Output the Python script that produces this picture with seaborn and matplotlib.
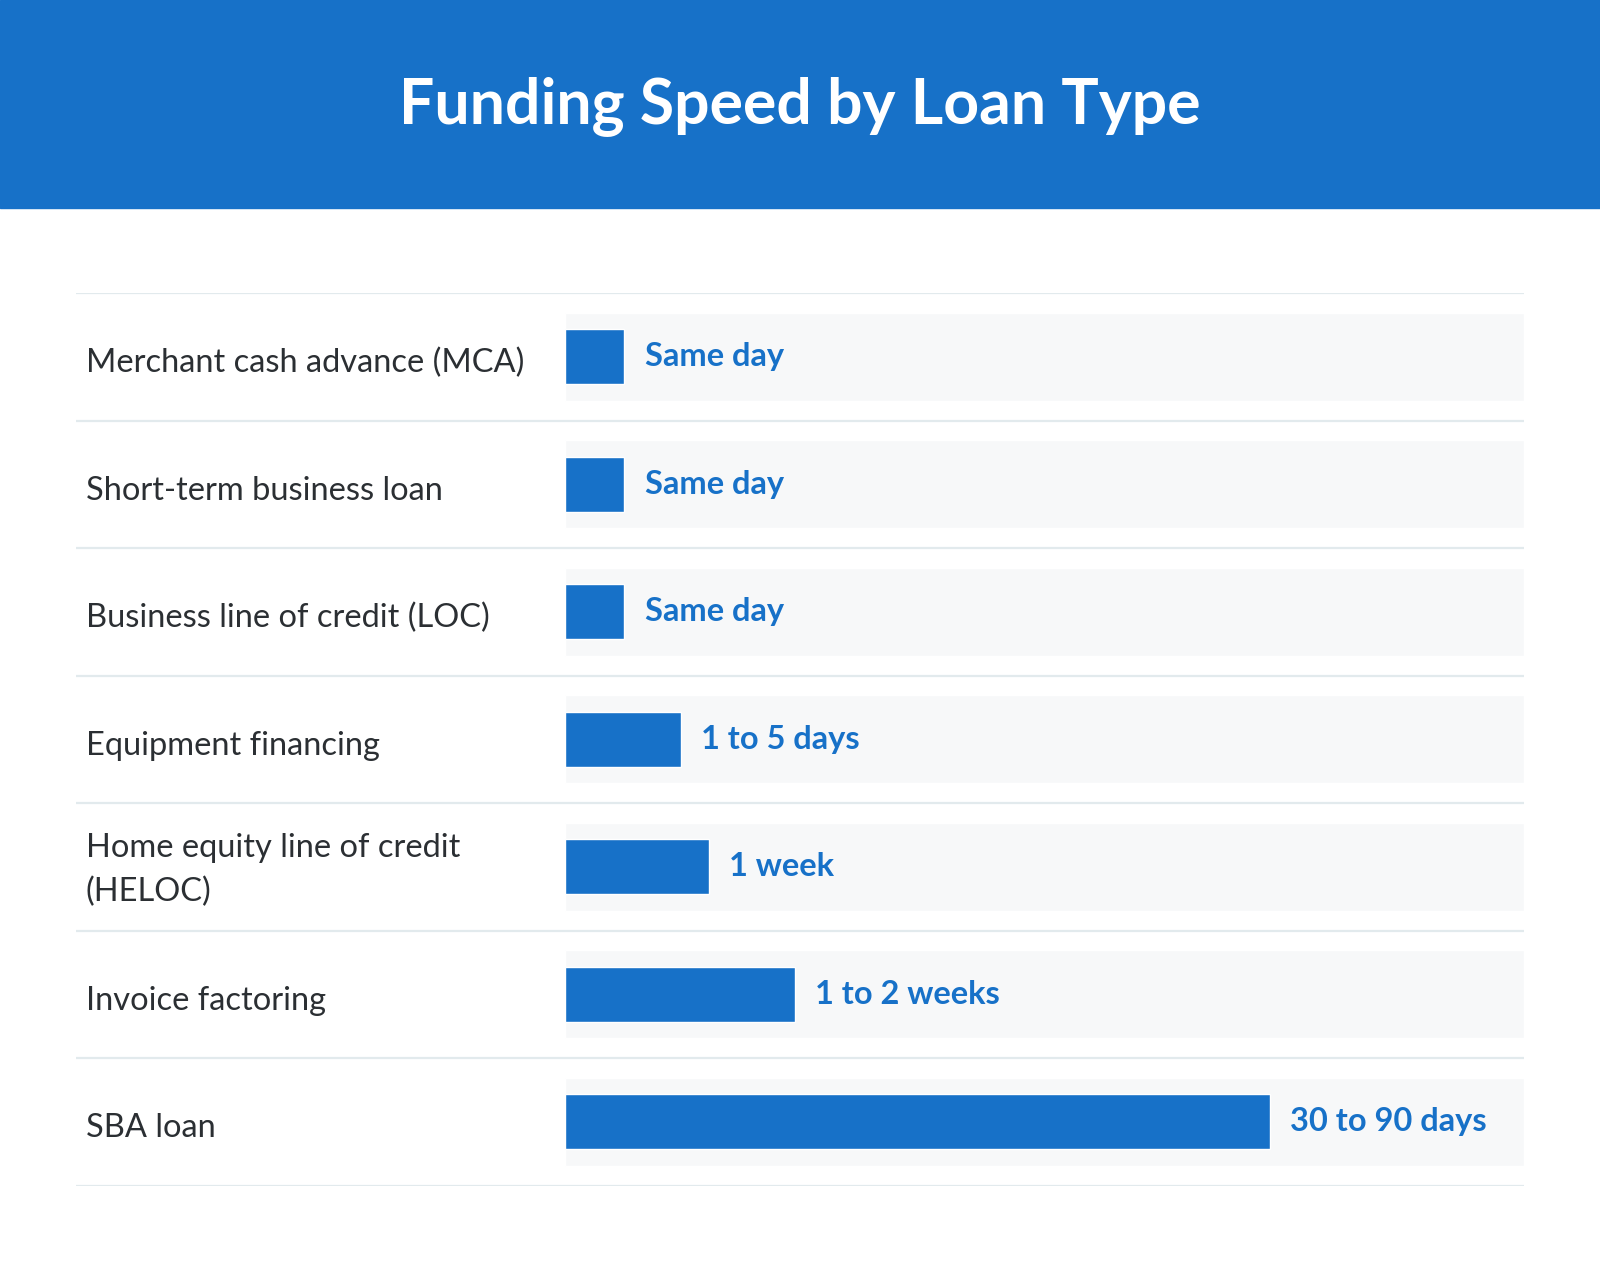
import numpy as np
import pandas as pd
import matplotlib
matplotlib.use("Agg")
import matplotlib.pyplot as plt
import seaborn as sns
from matplotlib.patches import Rectangle

# data (bar length on a 0-100 track)
loan_types = [
    "Merchant cash advance (MCA)",
    "Short-term business loan",
    "Business line of credit (LOC)",
    "Equipment financing",
    "Home equity line of credit\n(HELOC)",
    "Invoice factoring",
    "SBA loan",
]
speed_score = [6.2, 6.2, 6.2, 12.05, 15.0, 24.0, 73.5]
speed_labels = ["Same day", "Same day", "Same day", "1 to 5 days",
                "1 week", "1 to 2 weeks", "30 to 90 days"]
track_max = [100] * 7

BLUE = "#1771c8"
TEXT = "#2b2f33"
PANEL = "#f7f8f9"
LINE = "#e2eaed"


def create_plot():
    df = pd.DataFrame({"loan": loan_types, "score": speed_score,
                       "label": speed_labels, "track": track_max})

    sns.set_theme(style="white")
    plt.rcParams["font.family"] = ["Lato", "DejaVu Sans"]

    fig = plt.figure(figsize=(16, 12.77), dpi=100)
    fig.patches.append(Rectangle((0, 0.8371), 1, 0.1629, transform=fig.transFigure,
                                 color=BLUE, zorder=0))
    fig.text(0.5, 0.917, "Funding Speed by Loan Type", color="white",
             fontsize=45, fontweight="bold", ha="center", va="center")

    ax = fig.add_axes([0.04719, 0.07165, 0.9053, 0.6989])
    # light track behind each bar
    sns.barplot(data=df, y="loan", x="track", orient="h", color=PANEL,
                width=0.69, ax=ax, saturation=1)
    sns.barplot(data=df, y="loan", x="score", orient="h", color=BLUE,
                width=0.43, ax=ax, saturation=1)

    ax.set_xlim(-51.04, 100)
    ax.set_ylim(len(loan_types) - 0.5, -0.5)
    for b in np.arange(-0.5, len(loan_types), 1.0):
        ax.axhline(b, color=LINE, lw=1.6, zorder=3)

    for i, row in df.iterrows():
        if "\n" in row["loan"]:
            ax.text(-49.95, i + 0.025, row["loan"], color=TEXT, fontsize=23.5,
                    ha="left", va="center", linespacing=1.55)
        else:
            ax.text(-49.95, i + 0.12, row["loan"], color=TEXT, fontsize=23.5,
                    ha="left", va="baseline")
        ax.text(row["score"] + 2.1, i + 0.075, row["label"], color=BLUE,
                fontsize=23.5, fontweight="bold", ha="left", va="baseline")

    ax.set_axis_off()
    return fig


def main():
    fig = create_plot()
    fig.savefig("out.png", dpi=100)


if __name__ == "__main__":
    main()
